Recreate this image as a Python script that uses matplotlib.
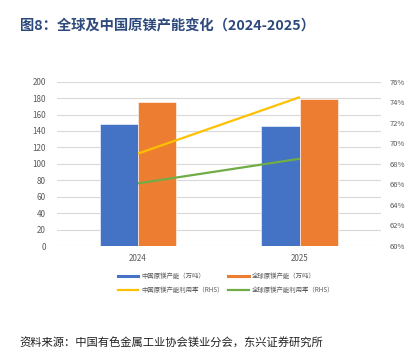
import numpy as np
import matplotlib
matplotlib.use("Agg")
import matplotlib.pyplot as plt

plt.rcParams['font.family'] = ['Noto Sans CJK SC', 'DejaVu Sans']

# Data
years = ["2024", "2025"]
china_capacity = [148.5, 146.5]      # 万吨
global_capacity = [175, 179]         # 万吨
china_util = [69.0, 74.5]            # %
global_util = [66.1, 68.5]           # %

blue = "#4472C4"
orange = "#ED7D31"
yellow = "#FFC000"
green = "#70AD47"
tick_grey = "#595959"

fig = plt.figure(figsize=(4.07, 3.58), dpi=100)
ax = fig.add_axes([0.140, 0.3128, 0.796, 0.459])

x = np.arange(len(years))
w = 0.2375
ax.bar(x - w / 2, china_capacity, w, color=blue, edgecolor="white", linewidth=0.4, zorder=2)
ax.bar(x + w / 2, global_capacity, w, color=orange, edgecolor="white", linewidth=0.4, zorder=2)
ax.set_xlim(-0.5, 1.5)
ax.set_ylim(0, 200)
ax.set_yticks(range(0, 201, 20))
ax.set_xticks(x)
ax.set_xticklabels(years)
ax.grid(axis="y", color="#D9D9D9", linewidth=0.8, zorder=0)
ax.set_axisbelow(True)
for s in ax.spines.values():
    s.set_visible(False)
ax.tick_params(length=0, labelsize=5.8, colors=tick_grey, pad=8)
ax.tick_params(axis="x", pad=6)

ax2 = ax.twinx()
ax2.plot(x, china_util, color=yellow, linewidth=1.6, solid_capstyle="butt", zorder=3)
ax2.plot(x, global_util, color=green, linewidth=1.6, solid_capstyle="butt", zorder=3)
ax2.set_ylim(60, 76)
ax2.set_yticks(range(60, 77, 2))
ax2.set_yticklabels([f"{v}%" for v in range(60, 77, 2)])
for s in ax2.spines.values():
    s.set_visible(False)
ax2.tick_params(length=0, labelsize=5.5, colors=tick_grey, pad=6)

# legend filled column by column: row 1 = capacity, row 2 = utilisation
handles = [
    plt.Line2D([], [], color=blue, linewidth=2.2),
    plt.Line2D([], [], color=yellow, linewidth=1.6),
    plt.Line2D([], [], color=orange, linewidth=2.2),
    plt.Line2D([], [], color=green, linewidth=1.6),
]
labels = ["中国原镁产能（万吨）", "中国原镁产能利用率（RHS）",
          "全球原镁产能（万吨）", "全球原镁产能利用率（RHS）"]
leg = fig.legend(handles, labels, ncol=2, loc="upper left",
                 bbox_to_anchor=(0.275, 0.255), frameon=False,
                 fontsize=4.6, handlelength=3.2, handletextpad=0.5,
                 columnspacing=0.7, labelspacing=0.9)
for t in leg.get_texts():
    t.set_color(tick_grey)

fig.text(0.049, 0.925, "图8：全球及中国原镁产能变化（2024-2025）",
         fontsize=10.3, fontweight="bold", color="#2E4A7D", va="center", ha="left")
fig.text(0.049, 0.042, "资料来源：中国有色金属工业协会镁业分会，东兴证券研究所",
         fontsize=8.1, color="#222222", va="center", ha="left", style="italic")

fig.savefig("out.png", dpi=100)
